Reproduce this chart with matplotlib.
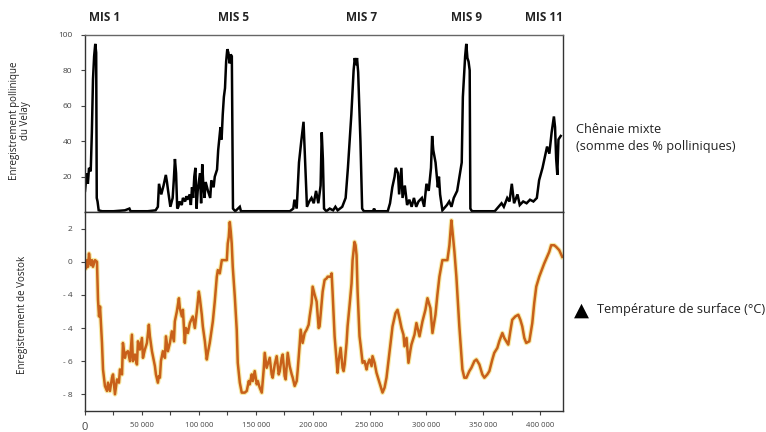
import numpy as np
import matplotlib.pyplot as plt

# Velay pollen record (age in ka, % chenaie mixte)
pollen_age_ka = [0, 1.5, 2.5, 3.5, 5, 6, 7, 8, 9, 9.8, 10.3, 11, 12, 15, 25, 35, 39, 40, 55, 62,
                 64, 65, 67, 69, 71, 72, 73, 75, 77, 78, 79, 80, 81, 82, 83, 85, 86, 88, 89, 90,
                 92, 93, 94, 95, 96, 97, 98, 99, 101, 102, 103, 104, 105, 106, 108, 110, 111, 113, 114, 116,
                 117, 119, 120, 121, 122, 123, 124, 125, 126, 127, 128, 129, 130, 132, 136, 137, 180, 183, 184, 186,
                 188, 190, 192, 193, 194, 195, 197, 199, 201, 203, 205, 207, 208, 209, 210, 212, 215, 218, 220, 222,
                 226, 229, 231, 233, 234, 236, 237, 238, 239, 240, 241, 242, 243.5, 245, 253, 254, 255, 266, 268, 270,
                 272, 273, 275, 276, 278, 279, 281, 283, 285, 287, 289, 291, 293, 296, 298, 300, 302, 304, 305, 306,
                 308, 310, 311, 312, 314, 318, 320, 322, 324, 327, 329, 331, 332, 334, 335, 336, 337, 338, 338.6, 340,
                 360, 366, 368, 371, 373, 375, 377, 380, 382, 385, 388, 391, 394, 397, 399, 402, 404, 406, 408, 410,
                 412, 413, 414, 415, 416, 418]
pollen_pct = [12, 22, 16, 25, 23, 45, 75, 88, 95, 90, 8, 6, 1, 0.5, 0.5, 1, 2, 0.5, 0.5, 1,
              3, 16, 10, 15, 21, 17, 12, 3, 8, 18, 30, 22, 2, 3, 6, 4, 8, 6, 9, 7,
              10, 4, 14, 8, 20, 25, 2, 12, 22, 5, 27, 15, 8, 17, 12, 8, 18, 14, 20, 24,
              35, 48, 41, 55, 65, 70, 85, 92, 90, 84, 89, 88, 2, 0.5, 3, 0.5, 0.5, 2, 7, 2,
              28, 40, 51, 35, 20, 3, 6, 8, 5, 12, 5, 15, 45, 30, 2, 0.5, 2, 1, 3, 1,
              3, 8, 25, 45, 55, 80, 87, 83, 87, 79, 60, 40, 2, 0.5, 0.5, 2, 0.5, 0.5, 5, 14,
              20, 25, 22, 10, 25, 8, 15, 4, 7, 3, 8, 3, 6, 8, 3, 16, 12, 25, 43, 35,
              28, 14, 20, 10, 1, 4, 6, 3, 8, 12, 20, 28, 65, 88, 95, 87, 85, 80, 2, 0.5,
              0.5, 5, 3, 8, 6, 16, 5, 10, 4, 6, 5, 7, 6, 8, 18, 25, 31, 37, 33, 45,
              54, 48, 30, 21, 41, 43]

# Vostok surface temperature (age in ka, deg C)
temp_age_ka = [0, 0.9, 1.8, 2.6, 3.5, 4.4, 5.3, 6.1, 7.0, 8.8, 10.5, 11.4, 12.3, 13.2, 14.9, 15.8, 17.5, 19.3, 20.2, 21.9,
               23.7, 24.6, 26.3, 28.1, 29.8, 30.7, 32.5, 33.3, 35.1, 36.0, 37.7, 39.5, 41.2, 42.1, 43.9, 45.6, 46.5, 48.2, 50.0, 50.9,
               52.6, 54.4, 56.1, 57.0, 58.8, 61.4, 62.3, 64.0, 64.9, 65.8, 66.7, 68.4, 70.2, 71.1, 72.8, 74.6, 76.3, 78.1, 78.9, 80.7,
               82.5, 83.3, 85.1, 86.0, 87.7, 88.6, 90.4, 92.1, 94.7, 96.5, 98.2, 100.0, 100.9, 102.6, 103.5, 105.3, 107.0, 107.9, 109.6, 112.3,
               114.0, 115.8, 116.7, 118.4, 120.2, 124.6, 125.4, 126.3, 127.2, 128.1, 128.9, 129.8, 131.6, 133.3, 134.2, 136.0, 137.7, 140.4, 142.1, 143.9,
               144.7, 146.5, 147.4, 149.1, 150.9, 151.8, 153.5, 155.3, 157.0, 157.9, 159.6, 160.5, 162.3, 164.0, 164.9, 166.7, 168.4, 170.2, 171.1, 172.8,
               173.7, 175.4, 176.3, 178.1, 179.8, 181.6, 182.5, 184.2, 186.0, 186.8, 188.6, 189.5, 191.2, 193.0, 194.7, 196.5, 197.4, 199.1, 200.0, 201.8,
               203.5, 205.3, 206.1, 207.9, 208.8, 210.5, 212.3, 213.2, 215.8, 216.7, 217.5, 219.3, 221.0, 221.9, 222.8, 224.6, 226.3, 227.2, 228.1, 229.8,
               230.7, 232.5, 234.2, 235.1, 236.8, 237.7, 238.6, 239.5, 241.2, 242.1, 243.9, 245.6, 247.4, 248.2, 250.0, 251.8, 252.6, 254.4, 256.1, 258.8,
               261.4, 263.2, 264.9, 267.5, 270.2, 272.8, 274.6, 276.3, 278.1, 279.8, 280.7, 282.5, 284.2, 286.0, 286.8, 289.5, 291.2, 293.9, 296.5, 299.1,
               300.9, 303.5, 305.3, 307.9, 309.6, 311.4, 314.0, 318.4, 320.2, 321.9, 322.8, 324.6, 326.3, 328.9, 331.6, 333.3, 335.1, 337.7, 339.5, 342.1,
               343.9, 346.5, 349.1, 350.9, 353.5, 355.3, 357.9, 359.6, 362.3, 364.0, 366.7, 368.4, 370.2, 371.9, 373.7, 375.4, 378.1, 380.7, 382.5, 384.2,
               386.0, 387.7, 390.4, 393.0, 394.7, 396.5, 399.1, 403.5, 407.9, 409.6, 412.3, 414.0, 416.7, 419.3]
temp_c = [-0.1, -0.4, 0.1, -0.3, 0.5, 0.0, -0.2, 0.1, -0.3, 0.1, 0.0, -2.3, -3.3, -2.7, -4.9, -6.5, -7.5, -7.8, -7.3, -7.8,
          -7.0, -6.8, -8.0, -7.1, -7.3, -6.5, -6.8, -4.9, -5.8, -5.5, -5.4, -6.0, -4.4, -6.0, -5.6, -6.2, -4.8, -5.3, -4.6, -5.8,
          -5.3, -4.9, -3.8, -4.5, -5.4, -6.3, -6.8, -7.3, -6.9, -7.0, -6.0, -5.4, -5.8, -4.5, -5.4, -4.9, -4.2, -4.8, -3.6, -3.0,
          -2.2, -2.8, -3.3, -2.9, -4.9, -4.0, -4.3, -3.7, -3.3, -4.0, -3.0, -1.8, -2.2, -3.2, -3.9, -4.8, -5.9, -5.5, -4.9, -3.6,
          -2.4, -0.9, -0.5, -0.7, 0.1, 0.1, 1.1, 1.5, 2.4, 1.8, 1.1, -0.3, -2.1, -4.1, -6.1, -7.3, -7.9, -7.9, -7.8, -7.2,
          -7.4, -6.8, -7.2, -6.6, -7.4, -7.2, -7.6, -7.9, -6.5, -5.5, -6.4, -6.2, -5.8, -6.8, -7.0, -6.2, -5.7, -6.8, -6.6, -5.8,
          -5.6, -6.9, -7.1, -5.5, -6.3, -6.8, -7.0, -7.5, -7.2, -6.6, -5.0, -4.1, -4.9, -4.3, -4.1, -3.8, -3.3, -2.5, -1.5, -2.0,
          -2.4, -4.0, -3.9, -2.5, -1.8, -1.1, -1.0, -0.9, -0.9, -0.7, -1.8, -4.5, -5.9, -6.7, -6.0, -5.2, -6.4, -6.6, -6.2, -4.9,
          -3.9, -2.6, -1.3, 0.1, 1.2, 1.0, 0.4, -1.8, -4.5, -5.0, -6.1, -6.0, -6.5, -6.2, -5.9, -6.3, -5.7, -6.1, -6.7, -7.3,
          -7.9, -7.6, -7.0, -5.5, -3.9, -3.1, -2.9, -3.4, -4.0, -4.4, -5.1, -4.6, -6.1, -5.3, -5.0, -4.4, -3.7, -4.5, -3.6, -2.9,
          -2.2, -2.8, -4.3, -3.2, -2.0, -0.9, 0.1, 0.1, 1.0, 2.5, 1.9, 0.6, -0.9, -3.9, -6.5, -7.0, -7.0, -6.6, -6.4, -6.0,
          -5.9, -6.2, -6.8, -7.0, -6.8, -6.6, -5.9, -5.5, -5.2, -4.8, -4.3, -4.6, -4.8, -5.0, -4.2, -3.5, -3.3, -3.2, -3.5, -3.9,
          -4.6, -4.9, -4.8, -3.7, -2.5, -1.5, -0.9, -0.1, 0.6, 1.0, 1.0, 0.9, 0.7, 0.3]

mis_labels = ["MIS 1", "MIS 5", "MIS 7", "MIS 9", "MIS 11"]
mis_age_ka = [17.5, 130.7, 243, 335, 403.5]

pollen_ticks = [20, 40, 60, 80, 100]
temp_ticks = [2, 0, -2, -4, -6, -8]
temp_ticklabels = ["2", "0", "- 4", "- 4", "- 6", "- 8"]
age_ticks = [0, 50000, 100000, 150000, 200000, 250000, 300000, 350000, 400000]
age_ticklabels = ["0", "50 000", "100 000", "150 000", "200 000", "250 000", "300 000", "350 000", "400 000"]

plt.rcParams['font.family'] = ['Open Sans', 'DejaVu Sans']

fig = plt.figure(figsize=(7.66, 4.32), dpi=100)
ax1 = fig.add_axes([0.111, 0.509, 0.624, 0.410])
ax2 = fig.add_axes([0.111, 0.049, 0.624, 0.460])

xp = np.array(pollen_age_ka) * 1000
xt = np.array(temp_age_ka) * 1000

ax1.plot(xp, pollen_pct, color='black', lw=1.8, solid_joinstyle='miter')
ax1.set_xlim(0, 420000)
ax1.set_ylim(0, 100)
ax1.set_xticks([])
ax1.set_yticks(pollen_ticks)
ax1.tick_params(axis='y', labelsize=6, length=3, width=0.8, colors='#444444', pad=6)
for s in ax1.spines.values():
    s.set_color('#333333')
    s.set_linewidth(1.0)
ax1.spines['top'].set_color('#666666')

ax2.plot(xt, temp_c, color='#f3dc6a', lw=3.4, alpha=0.6, solid_joinstyle='round')
ax2.plot(xt, temp_c, color='#c8601a', lw=1.8, solid_joinstyle='round')
ax2.set_xlim(0, 420000)
ax2.set_ylim(-9, 3)
ax2.set_yticks(temp_ticks)
ax2.set_yticklabels(temp_ticklabels)
ax2.set_xticks(age_ticks)
ax2.set_xticklabels(age_ticklabels)
ax2.set_xticks(np.arange(25000, 420000, 50000), minor=True)
ax2.tick_params(axis='y', labelsize=6, length=3, width=0.8, colors='#444444', pad=6)
ax2.tick_params(axis='x', which='both', labelsize=5.5, length=3, width=0.8, colors='#444444', pad=5)
ax2.get_xticklabels()[0].set_fontsize(8)
for s in ax2.spines.values():
    s.set_color('#333333')
    s.set_linewidth(1.0)

for lab, a in zip(mis_labels, mis_age_ka):
    ax1.text(a * 1000, 110, lab, ha='center', va='center', fontsize=8.5,
             fontweight='bold', color='#222222', clip_on=False)

fig.text(0.026, 0.72, "Enregistrement pollinique\ndu Velay", rotation=90, ha='center',
         va='center', fontsize=7, color='#222222', linespacing=1.1)
fig.text(0.029, 0.27, "Enregistrement de Vostok", rotation=90, ha='center',
         va='center', fontsize=7, color='#222222')

fig.text(0.752, 0.68, "Chênaie mixte\n(somme des % polliniques)", ha='left', va='center',
         fontsize=9.2, color='#222222', linespacing=1.35)
fig.text(0.749, 0.283, "▲", ha='left', va='center', fontsize=14, color='black',
         family=['DejaVu Sans'])
fig.text(0.779, 0.283, "Température de surface (°C)", ha='left', va='center',
         fontsize=9.2, color='#222222')

fig.savefig('out.png', dpi=100)
